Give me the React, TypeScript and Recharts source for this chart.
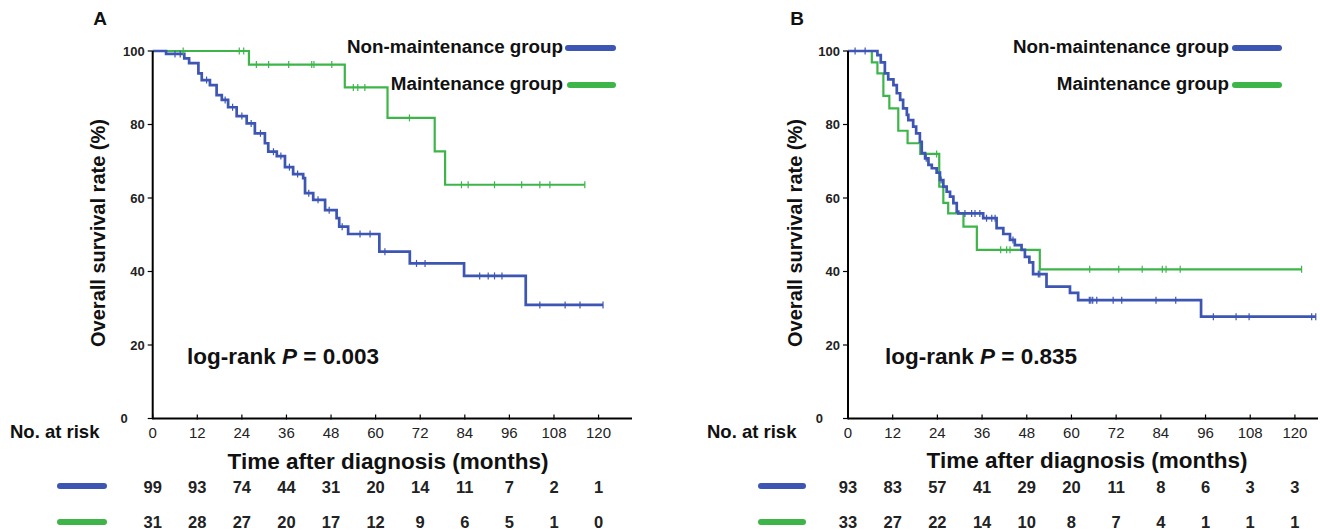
import React from 'react';
import { LineChart, Line, XAxis, YAxis } from 'recharts';

// ─── data ─────────────────────────────────────────────────────────────────────

const xTicks = [0, 12, 24, 36, 48, 60, 72, 84, 96, 108, 120];
const yTicks = [0, 20, 40, 60, 80, 100];

// Panel A
const aBlueTimes = [0, 3.6, 8.5, 9.8, 12.3, 13.2, 15.4, 17.2, 18.6, 20.3, 22.6, 25.3, 27.5, 30.2, 31.1, 33.4, 35.6, 37.8, 40.5, 41.0, 43.2, 46.4, 49.5, 50.2, 52.6, 61.0, 69.2, 83.8, 100.4];
const aBlueSurv  = [100, 99.2, 98.0, 96.7, 93.9, 92.1, 90.7, 88.0, 86.7, 84.7, 82.3, 80.3, 77.6, 74.9, 72.6, 71.4, 68.4, 66.5, 65.4, 61.3, 59.5, 56.7, 54.5, 52.2, 50.2, 45.4, 42.2, 38.8, 30.9];
const aBlueCensor = [6.0, 7.4, 14.5, 19.5, 21.5, 24.0, 26.5, 29.0, 32.5, 34.5, 36.8, 39.0, 42.0, 44.5, 47.5, 51.0, 55.8, 58.5, 62.5, 71.0, 73.3, 88.0, 90.3, 92.0, 94.0, 104.2, 111.0, 115.0, 121.2];

const aGreenTimes = [0, 25.9, 51.7, 63.2, 75.9, 78.7];
const aGreenSurv  = [100, 96.3, 90.1, 81.8, 72.7, 63.6];
const aGreenCensor = [8.2, 23.3, 24.5, 27.9, 31.2, 36.6, 42.8, 43.4, 48.2, 54.0, 55.2, 57.1, 69.1, 83.1, 84.9, 92.0, 99.3, 104.2, 106.9, 116.3];

const aRiskBlue  = [99, 93, 74, 44, 31, 20, 14, 11, 7, 2, 1];
const aRiskGreen = [31, 28, 27, 20, 17, 12, 9, 6, 5, 1, 0];

// Panel B
const bBlueTimes = [0, 7.9, 8.8, 9.9, 10.8, 12.2, 13.1, 14.0, 14.8, 15.8, 16.2, 17.5, 18.3, 19.3, 19.8, 20.7, 21.6, 22.5, 23.8, 24.7, 25.6, 26.5, 27.4, 28.3, 29.2, 29.6, 36.3, 39.9, 41.7, 43.5, 44.8, 46.6, 47.5, 48.7, 49.7, 53.3, 59.6, 61.8, 94.8];
const bBlueSurv  = [100, 98.9, 96.9, 93.9, 92.3, 90.7, 88.5, 86.7, 84.4, 82.6, 81.2, 79.4, 77.6, 75.3, 72.2, 70.8, 69.0, 68.1, 66.9, 64.9, 63.1, 61.7, 60.4, 58.6, 56.3, 55.8, 54.5, 51.8, 50.2, 48.6, 47.2, 45.9, 44.0, 42.5, 39.3, 35.9, 34.2, 32.2, 27.7];
const bBlueCensor = [1.9, 4.6, 21.0, 25.0, 31.4, 33.2, 34.1, 35.4, 37.2, 38.6, 39.5, 44.3, 51.1, 51.5, 64.8, 65.2, 65.7, 66.8, 71.2, 73.5, 82.7, 88.0, 98.1, 104.2, 107.7, 124.5, 125.6];

const bGreenTimes = [0, 6.4, 7.9, 9.5, 11.1, 13.5, 16.0, 19.4, 24.5, 25.6, 26.9, 31.0, 34.6, 51.5];
const bGreenSurv  = [100, 96.9, 93.9, 87.8, 84.4, 78.3, 74.9, 72.0, 63.1, 58.7, 55.8, 52.2, 45.9, 40.6];
const bGreenCensor = [23.8, 41.0, 42.6, 43.5, 64.9, 72.7, 79.0, 84.4, 85.4, 89.2, 121.8];

const bRiskBlue  = [93, 83, 57, 41, 29, 20, 11, 8, 6, 3, 3];
const bRiskGreen = [33, 27, 22, 14, 10, 8, 7, 4, 1, 1, 1];

// ─── helpers ──────────────────────────────────────────────────────────────────

const BLUE  = '#3d55b3';
const GREEN = '#3db549';
const FONT   = "Arial, 'Liberation Sans', Helvetica, sans-serif";
const NARROW = "'Liberation Sans Narrow', 'Arial Narrow', Arial, 'Liberation Sans', sans-serif";

interface Pt { t: number; s: number; c: boolean }

function buildKM(times: number[], surv: number[], censor: number[]): Pt[] {
  const pts: Pt[] = times.map((t, i) => ({ t, s: surv[i], c: false }));
  censor.forEach((t) => {
    let s = 100;
    times.forEach((tt, i) => { if (tt <= t) s = surv[i]; });
    pts.push({ t, s, c: true });
  });
  return pts.sort((a, b) => a.t - b.t);
}

const censorDot = (color: string) => (props: any) => {
  const { cx, cy, payload, index } = props;
  if (!payload || !payload.c) return <g key={`n${index}`} />;
  return <line key={`c${index}`} x1={cx} x2={cx} y1={cy - 3.5} y2={cy + 3.5} stroke={color} strokeWidth={1.2} />;
};

function Txt({ x, y, anchor = 'start', size = 17, bold = true, rotate = 0, family = FONT, children }: any) {
  const tx = anchor === 'start' ? '0%' : anchor === 'middle' ? '-50%' : '-100%';
  return (
    <div
      style={{
        position: 'absolute', left: x, top: y, whiteSpace: 'nowrap',
        transform: `translate(${tx}, -50%) rotate(${rotate}deg)`,
        transformOrigin: rotate ? '50% 50%' : undefined,
        fontFamily: family, fontSize: size, fontWeight: bold ? 700 : 400,
        color: '#111', lineHeight: 1,
      }}
    >
      {children}
    </div>
  );
}

function Swatch({ x1, x2, y, color }: { x1: number; x2: number; y: number; color: string }) {
  return (
    <div style={{ position: 'absolute', left: x1, top: y - 3, width: x2 - x1, height: 6, borderRadius: 3, background: color }} />
  );
}

// ─── KM panel ─────────────────────────────────────────────────────────────────

interface PanelProps {
  left: number;
  margin: { top: number; left: number; right: number; bottom: number };
  xMax: number;
  blue: Pt[];
  green: Pt[];
  riskBlue: number[];
  riskGreen: number[];
}

function KMPanel({ left, margin, xMax, blue, green, riskBlue, riskGreen }: PanelProps) {
  const XTick = (props: any) => {
    const { x, y, payload, index } = props;
    return (
      <g>
        <line x1={x} x2={x} y1={y - 4} y2={y + 1} stroke="#000" strokeWidth={1.2} />
        <text x={x} y={y + 19} textAnchor="middle" fontFamily={NARROW} fontSize={15} fill="#222">{payload.value}</text>
        <text x={x} y={y + 74.5} textAnchor="middle" fontFamily={NARROW} fontSize={16.5} fontWeight={700} fill="#222">{riskBlue[index]}</text>
        <text x={x} y={y + 109.5} textAnchor="middle" fontFamily={NARROW} fontSize={16.5} fontWeight={700} fill="#222">{riskGreen[index]}</text>
      </g>
    );
  };
  const YTick = (props: any) => {
    const { x, y, payload } = props;
    const off = payload.value === 0 ? 25 : 8;
    return (
      <g>
        <line x1={x - 5} x2={x} y1={y} y2={y} stroke="#000" strokeWidth={1.2} />
        <text x={x - off} y={y + 4.5} textAnchor="end" fontFamily={FONT} fontSize={13} fontWeight={700} fill="#222">{payload.value}</text>
      </g>
    );
  };

  return (
    <div style={{ position: 'absolute', left, top: 0 }}>
      <LineChart width={660} height={530} margin={margin}>
        <XAxis
          type="number" dataKey="t" domain={[0, xMax]} ticks={xTicks}
          height={30} tickSize={0} tickMargin={0} tickLine={false}
          axisLine={{ stroke: '#000', strokeWidth: 2 }} tick={XTick} interval={0}
        />
        <YAxis
          type="number" domain={[0, 100]} ticks={yTicks}
          width={60} tickSize={0} tickMargin={0} tickLine={false}
          axisLine={{ stroke: '#000', strokeWidth: 2 }} tick={YTick} interval={0}
        />
        <Line data={green} dataKey="s" type="stepAfter" stroke={GREEN} strokeWidth={2.2} dot={censorDot(GREEN)} isAnimationActive={false} />
        <Line data={blue} dataKey="s" type="stepAfter" stroke={BLUE} strokeWidth={2.7} dot={censorDot(BLUE)} isAnimationActive={false} />
      </LineChart>
    </div>
  );
}

// ─── App ──────────────────────────────────────────────────────────────────────

export default function App() {
  const aBlue  = buildKM(aBlueTimes, aBlueSurv, aBlueCensor);
  const aGreen = buildKM(aGreenTimes, aGreenSurv, aGreenCensor);
  const bBlue  = buildKM(bBlueTimes, bBlueSurv, bBlueCensor);
  const bGreen = buildKM(bGreenTimes, bGreenSurv, bGreenCensor);

  return (
    <div style={{ position: 'absolute', left: 0, top: 0, width: 1320, height: 530, background: '#fff', overflow: 'hidden' }}>
      <KMPanel
        left={0}
        margin={{ top: 51, left: 92.7, right: 28, bottom: 81.5 }}
        xMax={129}
        blue={aBlue} green={aGreen}
        riskBlue={aRiskBlue} riskGreen={aRiskGreen}
      />
      <KMPanel
        left={660}
        margin={{ top: 51, left: 128, right: 2, bottom: 81.5 }}
        xMax={126.2}
        blue={bBlue} green={bGreen}
        riskBlue={bRiskBlue} riskGreen={bRiskGreen}
      />

      {/* Panel A text */}
      <Txt x={100} y={18} anchor="middle" size={19}>A</Txt>
      <Txt x={98} y={233} anchor="middle" size={20} rotate={-90}>Overall survival rate (%)</Txt>
      <Txt x={563} y={47} anchor="end" size={18.8}>Non-maintenance group</Txt>
      <Swatch x1={565} x2={616} y={48} color={BLUE} />
      <Txt x={563} y={83.5} anchor="end" size={18.8}>Maintenance group</Txt>
      <Swatch x1={567} x2={616} y={85} color={GREEN} />
      <Txt x={187} y={357} size={22.5}>log-rank <i>P</i> = 0.003</Txt>
      <Txt x={10} y={432} size={18.5}>No. at risk</Txt>
      <Txt x={388} y={462} anchor="middle" size={22.5}>Time after diagnosis (months)</Txt>
      <Swatch x1={57} x2={107} y={486} color={BLUE} />
      <Swatch x1={57} x2={107} y={522} color={GREEN} />

      {/* Panel B text */}
      <Txt x={797} y={18} anchor="middle" size={19}>B</Txt>
      <Txt x={795} y={233} anchor="middle" size={20} rotate={-90}>Overall survival rate (%)</Txt>
      <Txt x={1229} y={47} anchor="end" size={18.8}>Non-maintenance group</Txt>
      <Swatch x1={1232} x2={1282} y={48} color={BLUE} />
      <Txt x={1229} y={83.5} anchor="end" size={18.8}>Maintenance group</Txt>
      <Swatch x1={1232} x2={1282} y={85} color={GREEN} />
      <Txt x={885} y={357} size={22.5}>log-rank <i>P</i> = 0.835</Txt>
      <Txt x={707} y={432} size={18.5}>No. at risk</Txt>
      <Txt x={1087} y={461} anchor="middle" size={22.5}>Time after diagnosis (months)</Txt>
      <Swatch x1={758} x2={806} y={486} color={BLUE} />
      <Swatch x1={758} x2={806} y={522} color={GREEN} />
    </div>
  );
}
